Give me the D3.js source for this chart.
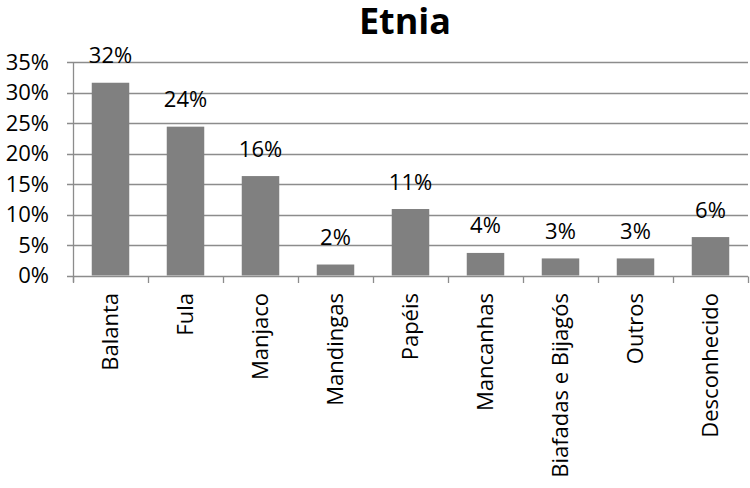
<!DOCTYPE html>
<html>
<head>
<meta charset="utf-8">
<script src="https://cdn.jsdelivr.net/npm/d3@7"></script>
<style>
  html, body { margin: 0; padding: 0; background: #fff; }
  svg { display: block; }
  text { font-family: "Open Sans", "Noto Sans", sans-serif; fill: #000; }
</style>
</head>
<body>
<svg id="chart" width="750" height="488"></svg>
<script>
const title = "Etnia";
const categories = ["Balanta", "Fula", "Manjaco", "Mandingas", "Papéis", "Mancanhas", "Biafadas e Bijagós", "Outros", "Desconhecido"];
const values = [31.6, 24.4, 16.3, 1.8, 10.9, 3.7, 2.8, 2.8, 6.3];
const valueLabels = ["32%", "24%", "16%", "2%", "11%", "4%", "3%", "3%", "6%"];
const yTicks = [0, 5, 10, 15, 20, 25, 30, 35];

(function () {
const svg = d3.select("#chart");
const pLeft = 73, pRight = 748, pTop = 62, pBottom = 275.5;
const fs = 22;

const x = d3.scaleBand().domain(categories).range([pLeft, pRight]).paddingInner(0.5).paddingOuter(0.25);
const y = d3.scaleLinear().domain([0, 35]).range([pBottom, pTop]);

// gridlines
svg.append("g").selectAll("line").data(yTicks).join("line")
  .attr("x1", pLeft - 6).attr("x2", pRight)
  .attr("y1", d => Math.round(y(d)) + 0.5).attr("y2", d => Math.round(y(d)) + 0.5)
  .attr("stroke", "#8c8c8c").attr("stroke-width", 1.3);

// y axis line
svg.append("line")
  .attr("x1", pLeft + 0.5).attr("x2", pLeft + 0.5)
  .attr("y1", Math.round(y(35)) + 0.5).attr("y2", Math.round(y(0)) + 6)
  .attr("stroke", "#8c8c8c").attr("stroke-width", 1.3);

// y tick labels
svg.append("g").selectAll("text").data(yTicks).join("text")
  .attr("x", 49).attr("y", d => y(d))
  .attr("dy", "0.36em")
  .attr("text-anchor", "end")
  .attr("font-size", fs)
  .text(d => d + "%");

// bars
svg.append("g").selectAll("rect").data(values).join("rect")
  .attr("x", (d, i) => x(categories[i]))
  .attr("width", x.bandwidth())
  .attr("y", d => y(d))
  .attr("height", d => y(0) - y(d))
  .attr("fill", "#808080");

// x ticks at band boundaries
const boundaries = d3.range(categories.length + 1).map(i => pLeft + i * (pRight - pLeft) / categories.length);
svg.append("g").selectAll("line").data(boundaries).join("line")
  .attr("x1", d => Math.round(d) + 0.5).attr("x2", d => Math.round(d) + 0.5)
  .attr("y1", Math.round(y(0)) + 0.5).attr("y2", Math.round(y(0)) + 7)
  .attr("stroke", "#8c8c8c").attr("stroke-width", 1.3);

// value labels
svg.append("g").selectAll("text").data(values).join("text")
  .attr("x", (d, i) => x(categories[i]) + x.bandwidth() / 2)
  .attr("y", d => y(d) - 19.5)
  .attr("text-anchor", "middle")
  .attr("font-size", fs)
  .text((d, i) => valueLabels[i]);

// category labels
svg.append("g").selectAll("text").data(categories).join("text")
  .attr("transform", d => `translate(${x(d) + x.bandwidth() / 2},293) rotate(-90)`)
  .attr("dy", "0.36em")
  .attr("text-anchor", "end")
  .attr("font-size", fs)
  .text(d => d);

// title
svg.append("text")
  .attr("x", 405).attr("y", 34)
  .attr("text-anchor", "middle")
  .attr("font-size", 36)
  .attr("font-weight", "bold")
  .text(title);
})();
</script>
</body>
</html>
